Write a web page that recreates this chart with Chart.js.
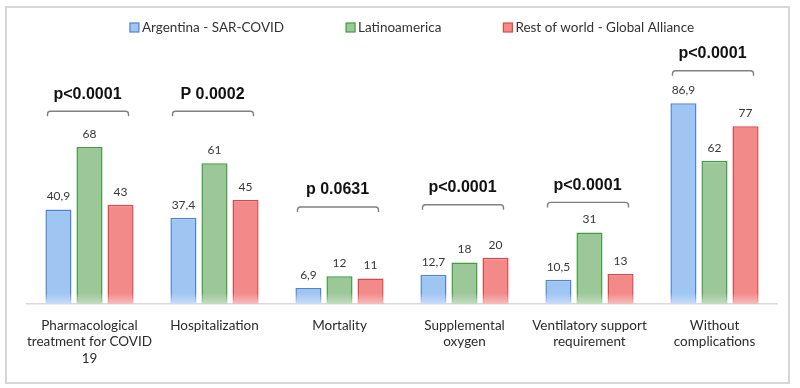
<!DOCTYPE html>
<html>
<head>
<meta charset="utf-8">
<script src="https://cdn.jsdelivr.net/npm/chart.js@4.4.0/dist/chart.umd.min.js"></script>
<style>
  html, body { margin: 0; padding: 0; background: #fff; }
  #wrap { width: 800px; height: 388px; position: relative; }
</style>
</head>
<body>
<div id="wrap"><canvas id="chart" width="800" height="388"></canvas></div>
<script>
// data
const categories = [
  ['Pharmacological', 'treatment for COVID', '19'],
  'Hospitalization',
  'Mortality',
  ['Supplemental', 'oxygen'],
  ['Ventilatory support', 'requirement'],
  ['Without', 'complications']
];
const seriesNames = ['Argentina - SAR-COVID', 'Latinoamerica', 'Rest of world - Global Alliance'];
const argentina = [40.9, 37.4, 6.9, 12.7, 10.5, 86.9];
const latinoamerica = [68, 61, 12, 18, 31, 62];
const restOfWorld = [43, 45, 11, 20, 13, 77];
const pValues = ['p<0.0001', 'P 0.0002', 'p 0.0631', 'p<0.0001', 'p<0.0001', 'p<0.0001'];
const bracketLevel = [83.5, 83.5, 42, 43, 44, 101];

const fills = ['#9fc5f3', '#9cc799', '#f28a8a'];
const borders = ['#5283d2', '#3f9e3f', '#e04646'];
const fades = ['#c9ddf7', '#c3dcc1', '#f7bcbc'];

function fadeFill(i, base) {
  return (ctx) => {
    const area = ctx.chart.chartArea;
    if (!area) return base[i];
    const g = ctx.chart.ctx.createLinearGradient(0, area.bottom - 11, 0, area.bottom);
    g.addColorStop(0, base[i]);
    g.addColorStop(1, fades[i]);
    return g;
  };
}

// outer frame
const framePlugin = {
  id: 'frame',
  beforeDraw(chart) {
    const c = chart.ctx;
    c.save();
    c.strokeStyle = '#d6d6d6';
    c.lineWidth = 2;
    c.strokeRect(6, 7, 783, 376);
    c.restore();
  }
};

// legend drawn by hand so the spacing matches
const legendPlugin = {
  id: 'customLegend',
  afterDraw(chart) {
    const c = chart.ctx;
    c.save();
    c.font = '13.5px Lato, "Liberation Sans", sans-serif';
    c.textBaseline = 'middle';
    const gap = 62;
    const widths = seriesNames.map(n => 12 + c.measureText(n).width);
    const total = widths.reduce((a, b) => a + b, 0) + gap * (widths.length - 1);
    let x = 412 - total / 2;
    const y = 28;
    seriesNames.forEach((name, i) => {
      c.fillStyle = fills[i];
      c.fillRect(x, y - 5, 9, 9);
      c.strokeStyle = borders[i];
      c.lineWidth = 1.2;
      c.strokeRect(x, y - 5, 9, 9);
      c.fillStyle = '#333';
      c.fillText(name, x + 12, y);
      x += widths[i] + gap;
    });
    c.restore();
  }
};

// value labels + p value brackets
const annotatePlugin = {
  id: 'annotate',
  afterDatasetsDraw(chart) {
    const c = chart.ctx;
    c.save();
    c.font = '12px Lato, "Liberation Sans", sans-serif';
    c.fillStyle = '#383838';
    c.textAlign = 'center';
    c.textBaseline = 'middle';
    chart.data.datasets.forEach((ds, di) => {
      chart.getDatasetMeta(di).data.forEach((bar, i) => {
        c.fillText(String(ds.data[i]).replace('.', ','), bar.x, bar.y - 13);
      });
    });

    const xs = chart.scales.x;
    const ys = chart.scales.y;
    pValues.forEach((txt, i) => {
      const cx = xs.getPixelForValue(i);
      const y = ys.getPixelForValue(bracketLevel[i]);
      const l = cx - 42, r = cx + 39, d = 5;
      c.strokeStyle = '#808080';
      c.lineWidth = 1.4;
      c.beginPath();
      c.moveTo(l, y + d);
      c.arcTo(l, y, l + 4, y, 3);
      c.lineTo(r - 4, y);
      c.arcTo(r, y, r, y + d, 3);
      c.lineTo(r, y + d);
      c.stroke();
      c.font = 'bold 16px "Liberation Sans", Arial, sans-serif';
      c.fillStyle = '#111';
      c.fillText(txt, cx - 2, y - 17);
    });
    c.restore();
  }
};

new Chart(document.getElementById('chart'), {
  type: 'bar',
  data: {
    labels: categories,
    datasets: [argentina, latinoamerica, restOfWorld].map((d, i) => ({
      label: seriesNames[i],
      data: d,
      backgroundColor: fadeFill(i, fills),
      borderColor: fadeFill(i, borders),
      borderWidth: 1.5,
      categoryPercentage: 0.745,
      barPercentage: 0.84
    }))
  },
  options: {
    responsive: false,
    animation: false,
    layout: { padding: { top: 50, left: 27, right: 23, bottom: 0 } },
    plugins: {
      legend: { display: false },
      tooltip: { enabled: false }
    },
    scales: {
      x: {
        grid: { display: false, drawTicks: false },
        border: { display: true, color: '#d9d9d9', width: 1.5 },
        ticks: {
          color: '#2b2b2b',
          font: { family: 'Lato, "Liberation Sans", sans-serif', size: 13.5, lineHeight: 1.24 },
          padding: 13,
          maxRotation: 0,
          autoSkip: false
        },
        afterFit(scale) { scale.height = 84; }
      },
      y: {
        display: false,
        min: 0,
        max: 110
      }
    }
  },
  plugins: [framePlugin, legendPlugin, annotatePlugin]
});
</script>
</body>
</html>
